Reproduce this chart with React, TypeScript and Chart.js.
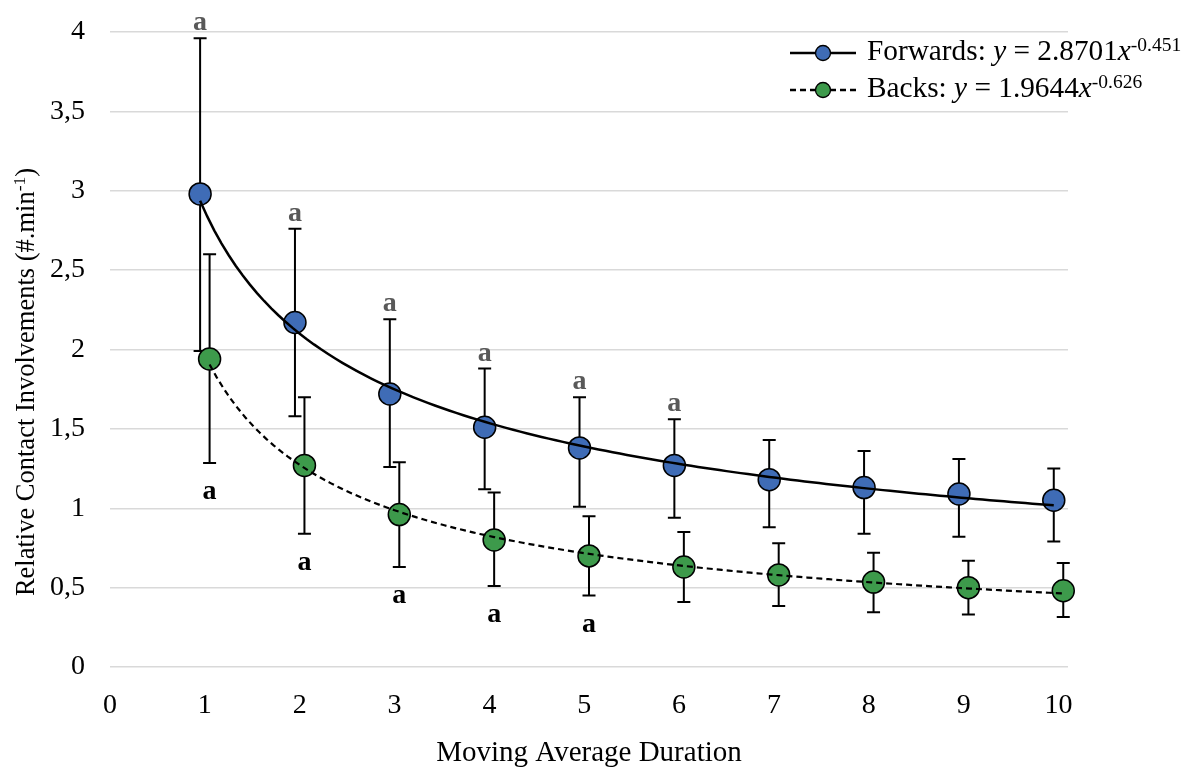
import React, { useEffect, useRef } from 'react';
import { Chart, registerables } from 'chart.js';

Chart.register(...registerables);

// ---- Data ----
const durations = [1, 2, 3, 4, 5, 6, 7, 8, 9, 10];
const xTickValues = [0, 1, 2, 3, 4, 5, 6, 7, 8, 9, 10];
const yTickValues = [0, 0.5, 1, 1.5, 2, 2.5, 3, 3.5, 4];

const forwardsMean = [2.98, 2.17, 1.72, 1.51, 1.38, 1.27, 1.18, 1.13, 1.09, 1.05];
const forwardsUpper = [3.96, 2.76, 2.19, 1.88, 1.70, 1.56, 1.43, 1.36, 1.31, 1.25];
const forwardsLower = [1.99, 1.58, 1.26, 1.12, 1.01, 0.94, 0.88, 0.84, 0.82, 0.79];
const forwardsSig = [true, true, true, true, true, true, false, false, false, false];

const backsMean = [1.94, 1.27, 0.96, 0.80, 0.70, 0.63, 0.58, 0.535, 0.50, 0.48];
const backsUpper = [2.60, 1.70, 1.29, 1.10, 0.95, 0.85, 0.78, 0.72, 0.67, 0.655];
const backsLower = [1.285, 0.84, 0.63, 0.51, 0.45, 0.41, 0.385, 0.345, 0.33, 0.315];
const backsSig = [true, true, true, true, true, false, false, false, false, false];

// power trendlines y = a * x^b (from the legend)
const forwardsTrend = [2.8701, -0.451];
const backsTrend = [1.9644, -0.626];

const sigLabel = 'a';
const xTitle = 'Moving Average Duration';
const yTitleMain = 'Relative Contact Involvements (#.min';
const yTitleSup = '-1';
const yTitleEnd = ')';

// ---- Style ----
const FONT = '"Liberation Serif", "Times New Roman", serif';
const BLUE = '#3F6CB6';
const GREEN = '#3D9A4B';
const OFFSET = 0.05;

function trendPoints(coef: number[], x0: number, x1: number) {
  const pts: { x: number; y: number }[] = [];
  const n = 120;
  for (let i = 0; i <= n; i++) {
    const x = x0 + ((x1 - x0) * i) / n;
    pts.push({ x, y: coef[0] * Math.pow(x, coef[1]) });
  }
  return pts;
}

type Part = { t: string; font: string; dy?: number };

function measureParts(ctx: CanvasRenderingContext2D, parts: Part[]) {
  let w = 0;
  for (const p of parts) {
    ctx.font = p.font;
    w += ctx.measureText(p.t).width;
  }
  return w;
}

function drawParts(ctx: CanvasRenderingContext2D, parts: Part[], x: number, y: number) {
  let cx = x;
  for (const p of parts) {
    ctx.font = p.font;
    ctx.fillText(p.t, cx, y + (p.dy || 0));
    cx += ctx.measureText(p.t).width;
  }
  return cx;
}

const overlayPlugin = {
  id: 'overlay',
  beforeDatasetsDraw(chart: any) {
    const ctx: CanvasRenderingContext2D = chart.ctx;
    const xs = chart.scales.x;
    const ys = chart.scales.y;
    ctx.save();
    ctx.strokeStyle = '#000';
    ctx.lineWidth = 2;
    const cap = 6.5;
    const drawBars = (offset: number, up: number[], lo: number[]) => {
      durations.forEach((d, i) => {
        const px = xs.getPixelForValue(d + offset);
        const pu = ys.getPixelForValue(up[i]);
        const pl = ys.getPixelForValue(lo[i]);
        ctx.beginPath();
        ctx.moveTo(px, pu);
        ctx.lineTo(px, pl);
        ctx.moveTo(px - cap, pu);
        ctx.lineTo(px + cap, pu);
        ctx.moveTo(px - cap, pl);
        ctx.lineTo(px + cap, pl);
        ctx.stroke();
      });
    };
    drawBars(-OFFSET, forwardsUpper, forwardsLower);
    drawBars(OFFSET, backsUpper, backsLower);
    ctx.restore();
  },
  afterDraw(chart: any) {
    const ctx: CanvasRenderingContext2D = chart.ctx;
    const xs = chart.scales.x;
    const ys = chart.scales.y;
    ctx.save();
    // significance letters
    ctx.textAlign = 'center';
    ctx.textBaseline = 'alphabetic';
    ctx.font = `bold 28px ${FONT}`;
    durations.forEach((d, i) => {
      if (forwardsSig[i]) {
        ctx.fillStyle = '#595959';
        ctx.fillText(sigLabel, xs.getPixelForValue(d - OFFSET), ys.getPixelForValue(forwardsUpper[i]) - 8);
      }
      if (backsSig[i]) {
        ctx.fillStyle = '#000';
        ctx.fillText(sigLabel, xs.getPixelForValue(d + OFFSET), ys.getPixelForValue(backsLower[i]) + 36);
      }
    });

    ctx.textAlign = 'left';
    ctx.fillStyle = '#000';
    // legend
    const main = `29.3px ${FONT}`;
    const ital = `italic 29.3px ${FONT}`;
    const sup = `19.5px ${FONT}`;
    const rows = [
      { y: 53, color: BLUE, dash: [] as number[], parts: [
        { t: 'Forwards: ', font: main }, { t: 'y', font: ital }, { t: ' = 2.8701', font: main },
        { t: 'x', font: ital }, { t: '-0.451', font: sup, dy: -9 },
      ] },
      { y: 90, color: GREEN, dash: [6, 4], parts: [
        { t: 'Backs: ', font: main }, { t: 'y', font: ital }, { t: ' = 1.9644', font: main },
        { t: 'x', font: ital }, { t: '-0.626', font: sup, dy: -9 },
      ] },
    ];
    rows.forEach((r) => {
      ctx.save();
      ctx.strokeStyle = '#000';
      ctx.lineWidth = 2.5;
      ctx.setLineDash(r.dash);
      ctx.beginPath();
      ctx.moveTo(790, r.y);
      ctx.lineTo(856, r.y);
      ctx.stroke();
      ctx.setLineDash([]);
      ctx.beginPath();
      ctx.arc(823, r.y, 7.5, 0, Math.PI * 2);
      ctx.fillStyle = r.color;
      ctx.fill();
      ctx.lineWidth = 1.3;
      ctx.stroke();
      ctx.restore();
      ctx.fillStyle = '#000';
      drawParts(ctx, r.parts, 867, r.y + 7);
    });

    // y title (rotated)
    const ymain = `26.5px ${FONT}`;
    const ysup = `17.5px ${FONT}`;
    const yParts: Part[] = [
      { t: yTitleMain, font: ymain },
      { t: yTitleSup, font: ysup, dy: -9 },
      { t: yTitleEnd, font: ymain },
    ];
    const w = measureParts(ctx, yParts);
    ctx.save();
    ctx.translate(34, 382);
    ctx.rotate(-Math.PI / 2);
    drawParts(ctx, yParts, -w / 2, 0);
    ctx.restore();

    // x title
    ctx.font = `29px ${FONT}`;
    ctx.textAlign = 'center';
    ctx.fillText(xTitle, 589, 761);
    ctx.restore();
  },
};

export default function App() {
  const ref = useRef<HTMLCanvasElement | null>(null);

  useEffect(() => {
    document.body.style.margin = '0';
    const canvas = ref.current;
    if (!canvas) return;
    const chart = new Chart(canvas, {
      type: 'scatter',
      data: {
        datasets: [
          {
            label: 'Forwards trend',
            data: trendPoints(forwardsTrend, 1 - OFFSET, 10 - OFFSET),
            showLine: true,
            borderColor: '#000',
            borderWidth: 2.5,
            pointRadius: 0,
            fill: false,
            clip: false,
            order: 0,
          },
          {
            label: 'Backs trend',
            data: trendPoints(backsTrend, 1 + OFFSET, 10 + OFFSET),
            showLine: true,
            borderColor: '#000',
            borderWidth: 2.2,
            borderDash: [6, 4],
            pointRadius: 0,
            fill: false,
            clip: false,
            order: 0,
          },
          {
            label: 'Forwards',
            data: durations.map((d, i) => ({ x: d - OFFSET, y: forwardsMean[i] })),
            backgroundColor: BLUE,
            borderColor: '#000',
            borderWidth: 1.5,
            pointRadius: 11,
            clip: false,
            order: 1,
          },
          {
            label: 'Backs',
            data: durations.map((d, i) => ({ x: d + OFFSET, y: backsMean[i] })),
            backgroundColor: GREEN,
            borderColor: '#000',
            borderWidth: 1.5,
            pointRadius: 11,
            clip: false,
            order: 1,
          },
        ],
      },
      options: {
        animation: false,
        responsive: false,
        events: [],
        layout: { padding: { top: 32, right: 121, left: 0, bottom: 0 } },
        plugins: { legend: { display: false }, tooltip: { enabled: false } },
        scales: {
          x: {
            type: 'linear',
            min: 0,
            max: 10.1,
            afterBuildTicks: (scale: any) => {
              scale.ticks = xTickValues.map((v) => ({ value: v }));
            },
            afterFit: (scale: any) => {
              scale.height = 100;
              scale.paddingLeft = 0;
              scale.paddingRight = 0;
            },
            grid: { display: false, drawTicks: false },
            border: { display: false },
            ticks: {
              padding: 22,
              color: '#000',
              font: { family: FONT, size: 28 },
              callback: (v: any) => String(v),
            },
          },
          y: {
            type: 'linear',
            min: 0,
            max: 4,
            afterBuildTicks: (scale: any) => {
              scale.ticks = yTickValues.map((v) => ({ value: v }));
            },
            afterFit: (scale: any) => {
              scale.width = 110;
              scale.paddingTop = 0;
              scale.paddingBottom = 0;
            },
            grid: { color: '#d9d9d9', lineWidth: 1.5, drawTicks: false },
            border: { display: false },
            ticks: {
              padding: 25,
              color: '#000',
              font: { family: FONT, size: 28 },
              callback: (v: any) => String(v).replace('.', ','),
            },
          },
        },
      },
      plugins: [overlayPlugin],
    });
    return () => chart.destroy();
  }, []);

  return (
    <div style={{ width: 1189, height: 767 }}>
      <canvas ref={ref} width={1189} height={767} style={{ display: 'block', width: 1189, height: 767 }} />
    </div>
  );
}
